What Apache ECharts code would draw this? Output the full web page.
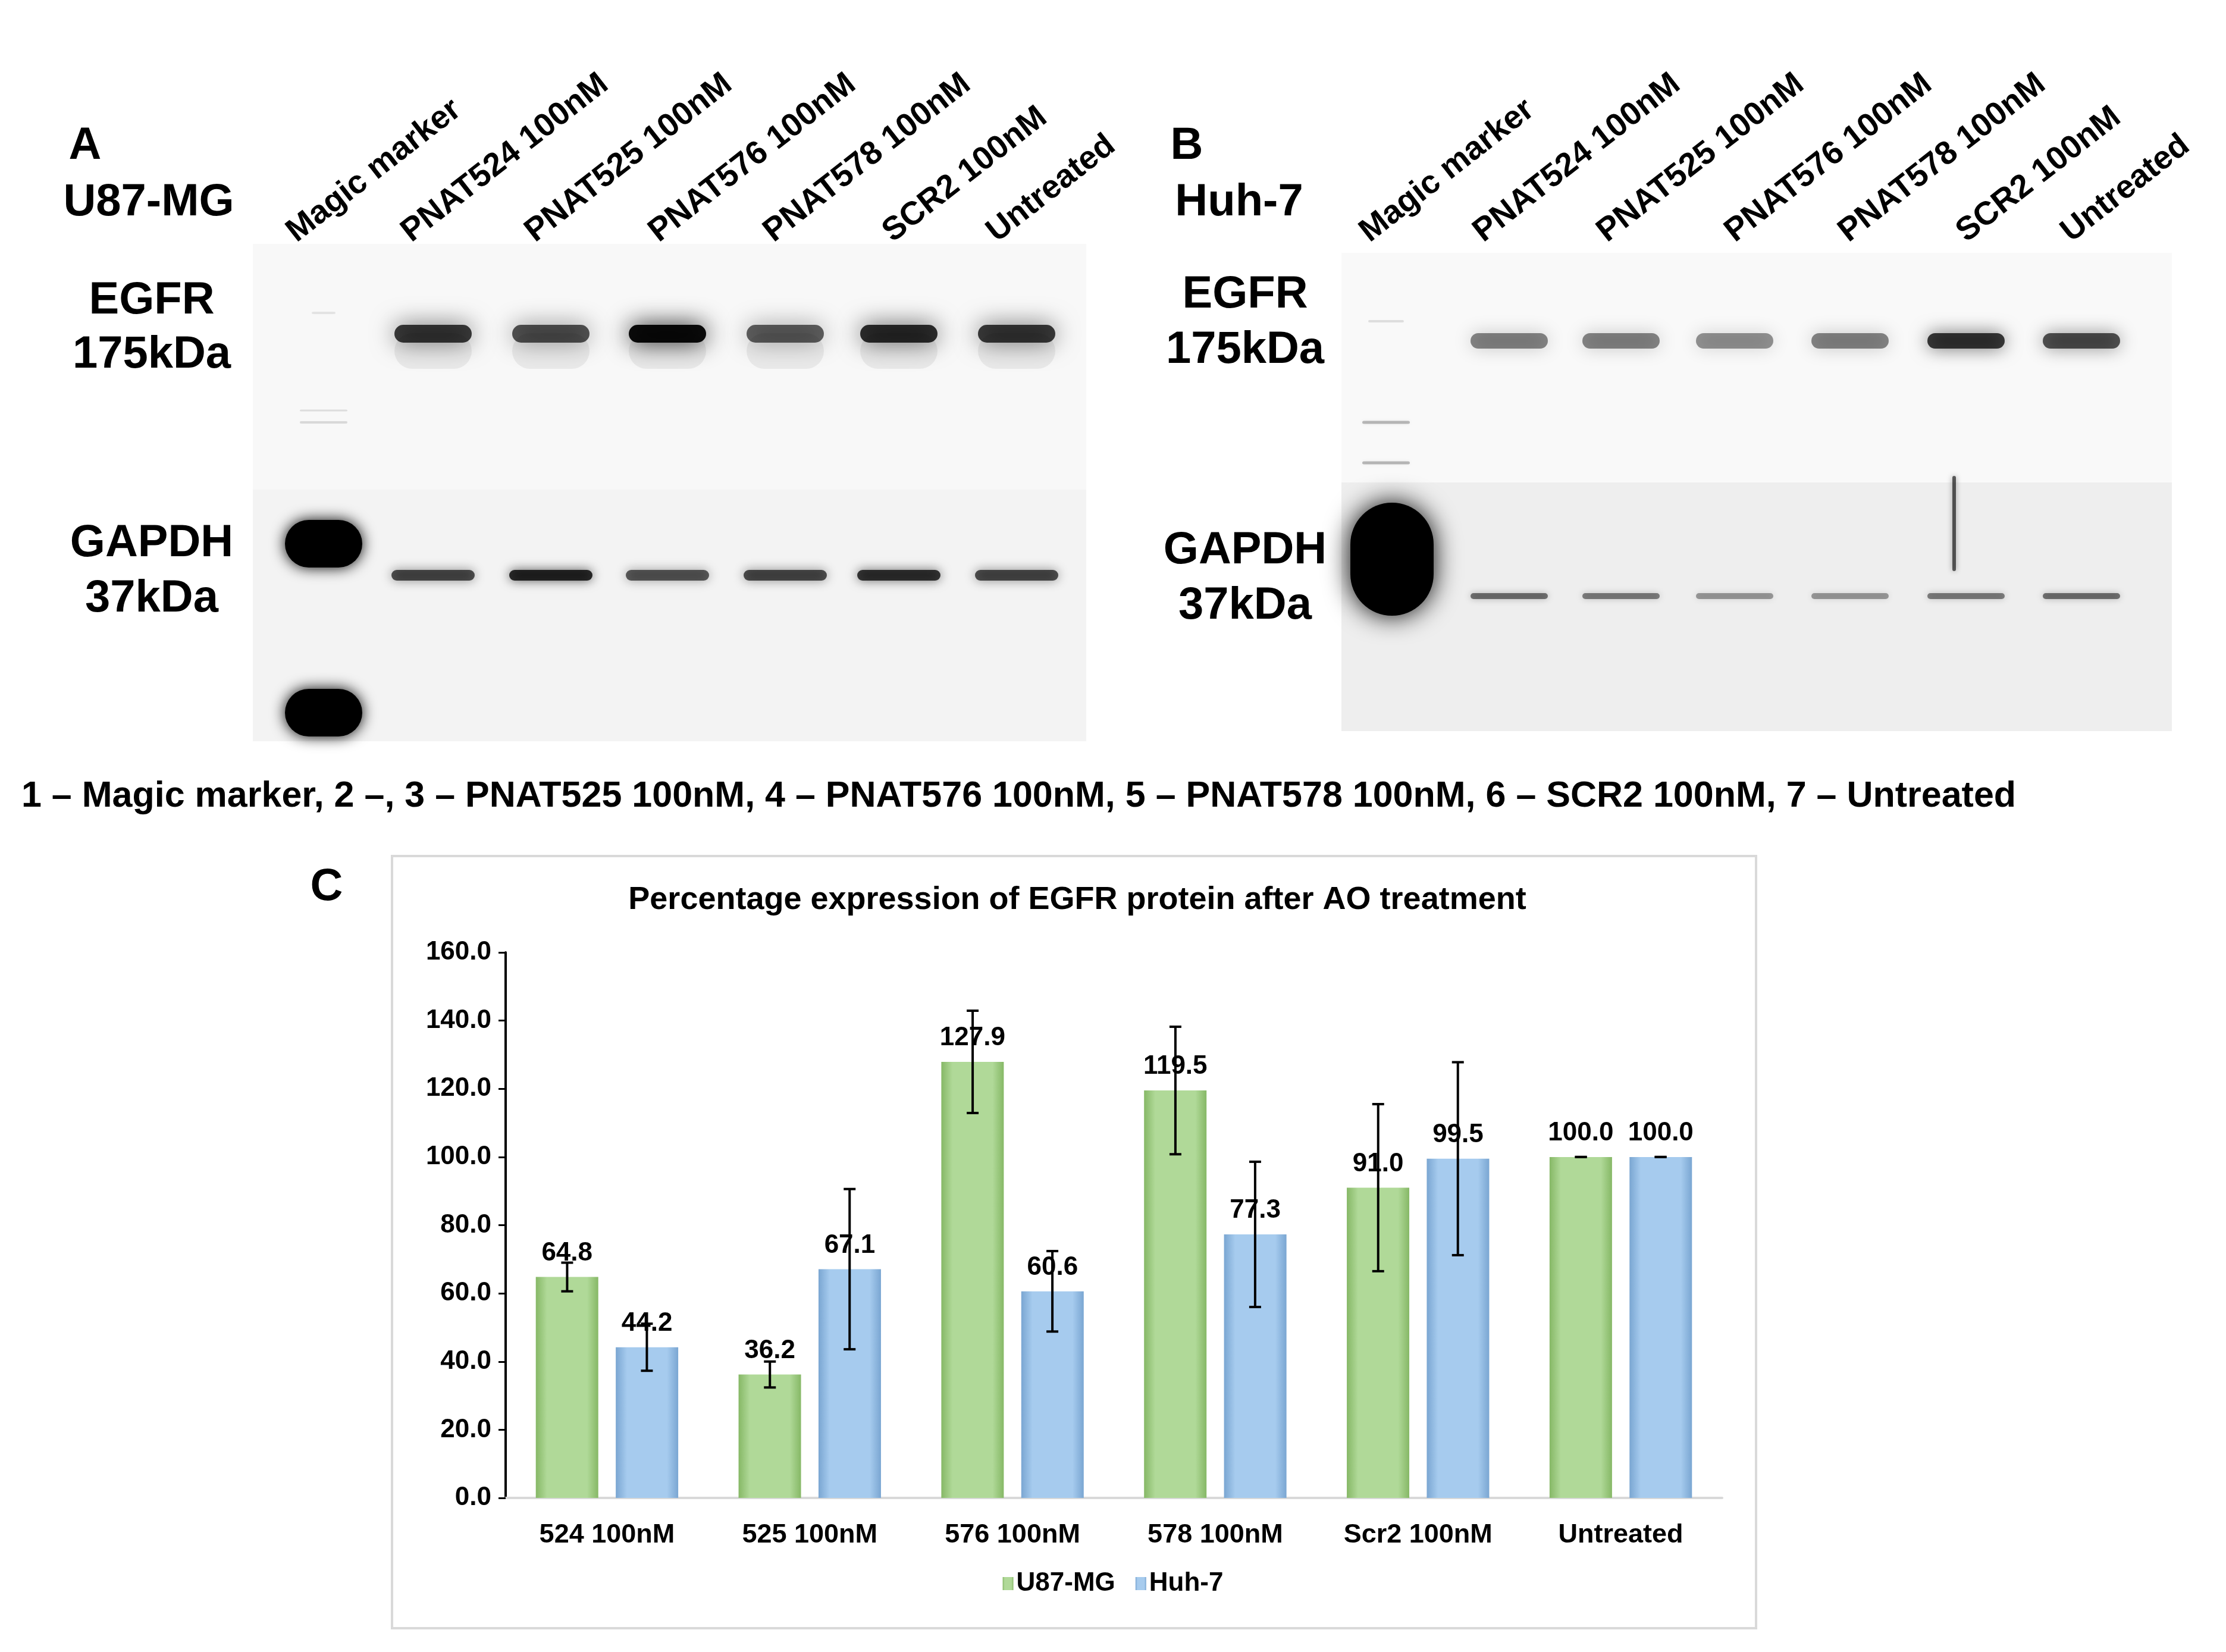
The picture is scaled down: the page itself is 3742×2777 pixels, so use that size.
<!DOCTYPE html>
<html><head><meta charset="utf-8">
<script src="https://cdn.jsdelivr.net/npm/echarts@6/dist/echarts.min.js"></script>
<style>html,body{margin:0;padding:0;background:#fff}#c{width:3742px;height:2777px}</style>
</head><body><div id="c"></div>
<script>
const categories = ['524 100nM','525 100nM','576 100nM','578 100nM','Scr2 100nM','Untreated'];
const u87 = [64.8, 36.2, 127.9, 119.5, 91.0, 100.0];
const huh7 = [44.2, 67.1, 60.6, 77.3, 99.5, 100.0];
const u87Err = [4.2, 3.8, 15.0, 18.7, 24.5, 0];
const huh7Err = [6.9, 23.5, 11.8, 21.3, 28.3, 0];
const yTicks = [0,20,40,60,80,100,120,140,160];
const laneLabels = ['Magic marker','PNAT524 100nM','PNAT525 100nM','PNAT576 100nM','PNAT578 100nM','SCR2 100nM','Untreated'];
const egfrA = [0.75,0.65,0.95,0.6,0.8,0.75];
const gapdhA = [0.65,0.8,0.6,0.65,0.75,0.65];
const egfrB = [0.45,0.45,0.4,0.45,0.75,0.65];
const gapdhB = [0.5,0.45,0.35,0.35,0.45,0.5];

const FONT = '"Liberation Sans", Arial, sans-serif';
const chart = echarts.init(document.getElementById('c'));

function grad(c1, c2){
  return new echarts.graphic.LinearGradient(0,0,1,0,[
    {offset:0,color:c2},{offset:0.18,color:c1},{offset:0.82,color:c1},{offset:1,color:c2}]);
}

const g = [];
function txt(x,y,t,size,align,rot){
  g.push({type:'text',x:x,y:y,rotation:rot||0,style:{text:t,font:'bold '+size+'px '+FONT,fill:'#000',textAlign:align||'center',textVerticalAlign:'middle'}});
}
function rect(x,y,w,h,fill){g.push({type:'rect',shape:{x:x,y:y,width:w,height:h},style:{fill:fill}});}
function band(cx,cy,w,h,a,blur){
  g.push({type:'rect',shape:{x:cx-w/2,y:cy-h/2,width:w,height:h,r:h/2},
    style:{fill:'rgba(0,0,0,'+a+')',shadowBlur:blur||18,shadowColor:'rgba(0,0,0,'+a+')'}});
}
// Panel A
rect(425,410,1401,413,'#f8f8f8'); rect(425,823,1401,423,'#f3f3f3');
const laneA=[728,926,1122,1320,1511,1709];
laneA.forEach((x,i)=>{band(x,590,130,60,0.06,40);band(x,561,130,30,egfrA[i],40);band(x,967,140,18,gapdhA[i],18);});
band(544,914,130,80,1,24); band(544,1198,130,80,1,24);
band(544,526,40,4,0.08,4); band(544,710,80,4,0.12,4); band(544,690,80,3,0.1,4);
// Panel B
rect(2255,425,1396,386,'#f9f9f9'); rect(2255,811,1396,418,'#eeeeee');
const laneB=[2537,2725,2916,3110,3305,3499];
laneB.forEach((x,i)=>{band(x,573,130,26,egfrB[i],30);band(x,1002,130,10,gapdhB[i],12);});
band(2340,940,140,190,1,44); band(3285,880,6,160,0.6,10);
band(2330,710,80,5,0.25,6); band(2330,778,80,5,0.25,6); band(2330,540,60,4,0.1,4);
// Labels
const P=76;
txt(143,246,'A',P,'center'); txt(250,341,'U87-MG',P,'center');
txt(255,506,'EGFR',P,'center'); txt(255,597,'175kDa',P,'center');
txt(255,914,'GAPDH',P,'center'); txt(255,1007,'37kDa',P,'center');
txt(1995,246,'B',P,'center'); txt(2083,341,'Huh-7',P,'center');
txt(2093,496,'EGFR',P,'center'); txt(2093,589,'175kDa',P,'center');
txt(2093,926,'GAPDH',P,'center'); txt(2093,1019,'37kDa',P,'center');
const ancA=[506,699,907,1115,1308,1508,1683];
const ancB=[2310,2501,2709,2924,3115,3313,3489];
function lane(x,t){g.push({type:'text',x:x,y:418,rotation:Math.PI*38/180,style:{text:t,font:'bold 55px '+FONT,fill:'#000',textAlign:'left',textVerticalAlign:'bottom'}});}
laneLabels.forEach((t,i)=>{lane(ancA[i],t);lane(ancB[i],t);});
g.push({type:'text',x:36,y:1339,style:{text:'1 – Magic marker, 2 –, 3 – PNAT525 100nM, 4 – PNAT576 100nM, 5 – PNAT578 100nM, 6 – SCR2 100nM, 7 – Untreated',font:'bold 61px '+FONT,fill:'#000',textAlign:'left',textVerticalAlign:'middle'}});
txt(549,1492,'C',P,'center');
g.push({type:'rect',shape:{x:659,y:1439,width:2293,height:1298},style:{fill:'none',stroke:'#d9d9d9',lineWidth:4}});

function errSeries(vals, errs, idx){
  return {type:'custom',z:10,data:vals.map((v,i)=>[i,v,errs[i]]),
    renderItem:function(params,api){
      const i=api.value(0),v=api.value(1),e=api.value(2);
      const c=api.coord([i,v]);
      const barW=105, gap=29;
      const x=c[0]+(idx===0?-(barW+gap)/2:(barW+gap)/2);
      const top=api.coord([i,v+e])[1], bot=api.coord([i,v-e])[1];
      const st={stroke:'#000',lineWidth:4};
      return {type:'group',children:[
        {type:'line',shape:{x1:x,y1:top,x2:x,y2:bot},style:st},
        {type:'line',shape:{x1:x-10,y1:top,x2:x+10,y2:top},style:st},
        {type:'line',shape:{x1:x-10,y1:bot,x2:x+10,y2:bot},style:st}]};
    }};
}
const lbl = {show:true,position:'top',distance:18,fontSize:44,fontWeight:'bold',color:'#000',formatter:p=>p.value.toFixed(1)};
chart.setOption({
  animation:false,
  textStyle:{fontFamily:FONT},
  title:{text:'Percentage expression of EGFR protein after AO treatment',left:1806,top:1508,textAlign:'center',textVerticalAlign:'middle',
    textStyle:{fontSize:54,fontWeight:'bold',color:'#000',fontFamily:FONT}},
  legend:{bottom:88,left:'center',itemWidth:18,itemHeight:22,itemGap:34,icon:'rect',
    textStyle:{fontSize:44,fontWeight:'bold',color:'#000',fontFamily:FONT},data:['U87-MG','Huh-7']},
  grid:{left:850,right:847,top:1601,bottom:259},
  xAxis:{type:'category',data:categories,axisTick:{show:false},
    axisLine:{lineStyle:{color:'#d9d9d9',width:4}},
    axisLabel:{fontSize:45,fontWeight:'bold',color:'#000',margin:40,fontFamily:FONT}},
  yAxis:{type:'value',min:0,max:160,interval:20,splitLine:{show:false},
    axisLine:{show:true,lineStyle:{color:'#000',width:4}},
    axisTick:{show:true,length:12,lineStyle:{color:'#000',width:3}},
    axisLabel:{fontSize:44,fontWeight:'bold',color:'#000',margin:24,fontFamily:FONT,formatter:v=>v.toFixed(1)}},
  graphic:g,
  series:[
    {name:'U87-MG',type:'bar',data:u87,barWidth:105,barGap:'28%',
      itemStyle:{color:grad('#b0d998','#86b866')},label:lbl},
    {name:'Huh-7',type:'bar',data:huh7,barWidth:105,
      itemStyle:{color:grad('#a6cbee','#7aa6d2')},label:lbl},
    errSeries(u87,u87Err,0), errSeries(huh7,huh7Err,1)
  ]
});
</script></body></html>
